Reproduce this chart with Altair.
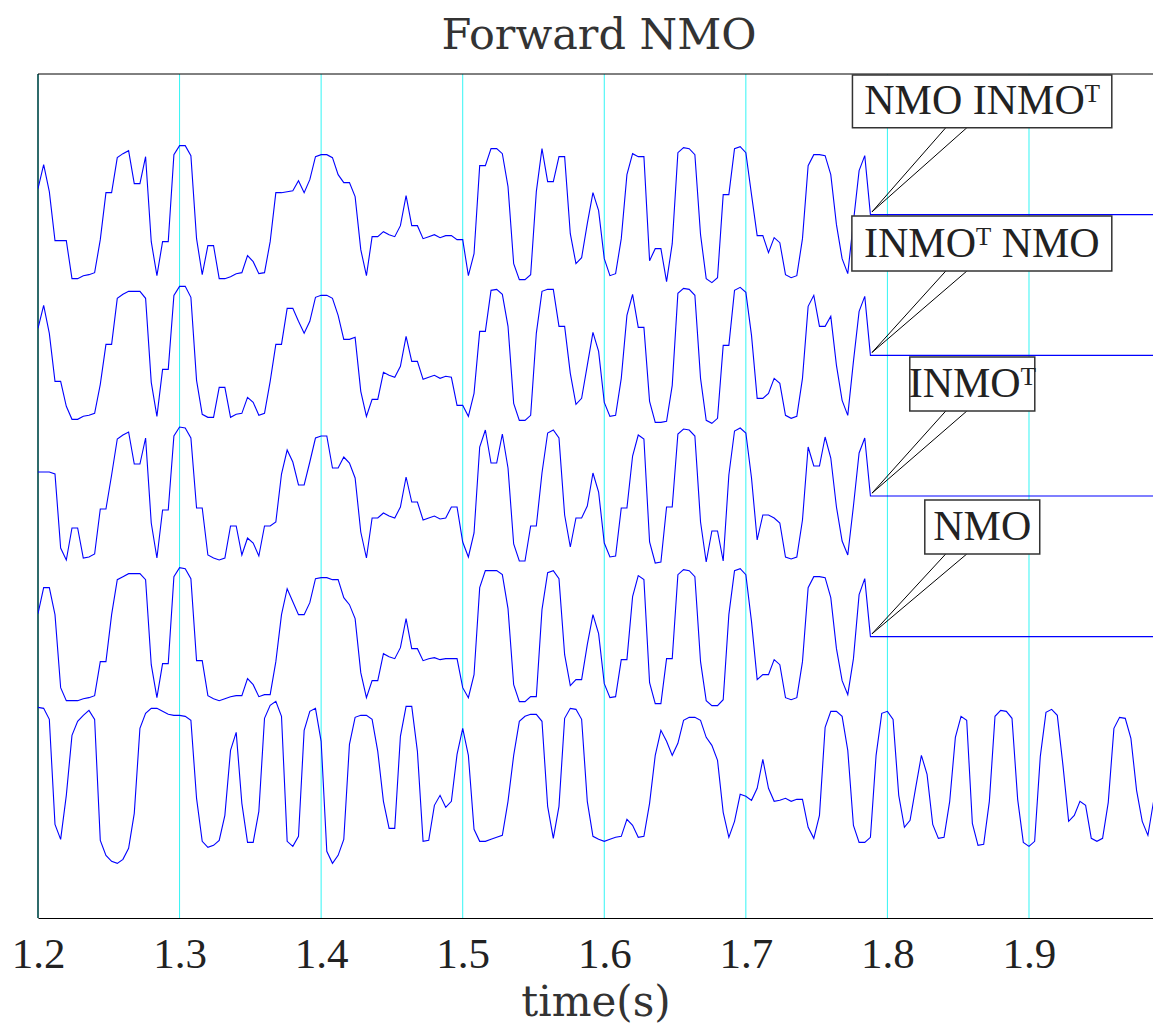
import altair as alt
import pandas as pd

# ---- sampling of the traces ----
T0 = 1.2          # first sample time (s)
DT = 0.004        # sample interval (s)
T_END = 1.9876    # right edge of the time axis
GAIN = 1 / 140.67 # amplitude units -> trace spacing

# ---- trace amplitudes (one value per sample) ----
nmo_inmot = [26, 50, 23, -26, -26, -26, -64, -64, -61, -60,
             -58, -25, 22, 22, 57, 61, 64, 31, 31, 58,
             -27, -61, -27, -27, 60, 69, 69, 59, -24, -60,
             -31, -31, -64, -64, -62, -59, -58, -41, -47, -59,
             -58, -27, 22, 22, 23, 24, 34, 22, 35, 58,
             60, 60, 57, 40, 32, 32, 18, -35, -61, -22,
             -22, -17, -20, -22, -11, 19, -11, -11, -24, -22,
             -20, -23, -21, -21, -25, -25, -61, -39, 49, 49,
             66, 66, 61, 28, -49, -65, -65, -60, 23, 66,
             33, 33, 58, 58, -19, -49, -43, -9, 22, 4,
             -44, -61, -59, -24, 40, 61, 58, 58, -46, -34,
             -34, -67, -29, 62, 67, 66, 60, -20, -64, -68,
             -63, 20, 20, 66, 68, 62, 20, -21, -21, -38,
             -23, -28, -60, -63, -61, -24, 49, 60, 60, 59,
             40, -10, -44, -59, -7, 44, 59, 0]

inmot_nmo = [27, 50, 22, -26, -26, -51, -64, -64, -61, -60,
             -58, -29, 11, 11, 57, 61, 64, 64, 64, 57,
             -27, -61, -14, -14, 60, 69, 69, 58, -25, -59,
             -62, -62, -32, -32, -62, -59, -58, -42, -47, -60,
             -58, -26, 11, 11, 47, 47, 34, 22, 34, 58,
             60, 60, 57, 40, 16, 16, 18, -36, -61, -44,
             -44, -17, -20, -22, -11, 19, -6, -6, -24, -22,
             -20, -23, -21, -22, -50, -50, -61, -38, 24, 24,
             65, 66, 61, 29, -48, -65, -65, -60, 22, 64,
             66, 66, 29, 29, -18, -49, -43, -10, 23, 4,
             -47, -61, -60, -23, 40, 61, 28, 28, -46, -67,
             -67, -66, -30, 62, 67, 66, 60, -23, -65, -68,
             -63, 10, 10, 65, 68, 63, 20, -43, -43, -38,
             -23, -28, -60, -63, -61, -23, 49, 60, 29, 29,
             39, -10, -45, -60, -6, 44, 59, 0]

inmot = [24, 24, 24, 22, -52, -64, -32, -32, -62, -61,
         -58, -13, -13, 21, 57, 61, 64, 32, 32, 58,
         -27, -62, -14, -14, 60, 69, 68, 58, -12, -12,
         -59, -62, -64, -62, -30, -30, -59, -42, -47, -60,
         -30, -30, -26, 22, 46, 34, 11, 11, 34, 58,
         60, 60, 28, 28, 39, 33, 18, -36, -62, -22,
         -22, -17, -20, -22, -11, 19, -6, -6, -24, -22,
         -20, -23, -22, -11, -11, -46, -61, -37, 49, 66,
         33, 33, 62, 28, -48, -65, -65, -30, -30, 23,
         63, 66, 58, -19, -51, -22, -22, -10, 23, 4,
         -47, -61, -60, -12, -12, 40, 61, 57, -46, -67,
         -66, -11, -11, 62, 67, 66, 60, -26, -66, -35,
         -35, -65, 21, 65, 68, 63, 18, -44, -19, -19,
         -22, -27, -61, -63, -61, -24, 49, 30, 30, 59,
         38, -11, -45, -59, -10, 43, 58, 0]

nmo = [23, 49, 49, 22, -51, -64, -64, -64, -62, -61,
       -59, -25, -25, 22, 57, 60, 63, 63, 63, 57,
       -28, -61, -27, -27, 60, 69, 68, 58, -24, -24,
       -59, -62, -64, -62, -60, -59, -59, -42, -48, -60,
       -58, -58, -25, 22, 48, 35, 22, 22, 34, 58,
       59, 59, 57, 57, 39, 32, 18, -36, -61, -44,
       -44, -17, -20, -22, -11, 18, -12, -12, -24, -22,
       -21, -23, -22, -22, -22, -51, -61, -38, 49, 66,
       66, 66, 62, 28, -48, -65, -65, -60, -60, 27,
       64, 66, 58, -18, -49, -43, -43, -8, 22, 3,
       -47, -61, -60, -23, -23, 40, 61, 57, -46, -67,
       -67, -22, -22, 62, 67, 66, 60, -25, -64, -69,
       -69, -63, 22, 66, 68, 62, 15, -43, -38, -38,
       -23, -28, -61, -63, -61, -25, 49, 60, 60, 59,
       39, -12, -44, -58, -22, 42, 58, 0]

input_trace = [70, 69, 58, -47, -62, -18, 42, 56, 62, 67,
               58, -63, -78, -84, -86, -82, -71, -36, 49, 64,
               69, 69, 66, 63, 62, 62, 61, 57, -21, -64,
               -70, -68, -63, -38, 27, 45, -26, -65, -65, -34,
               59, 72, 76, 61, -64, -69, -59, 47, 66, 69,
               36, -74, -86, -78, -62, 33, 60, 62, 62, 58,
               26, -24, -51, -51, 41, 71, 71, 26, -64, -63,
               -28, -18, -30, -24, 23, 49, 22, -52, -64, -64,
               -62, -60, -58, -24, 22, 56, 61, 63, 63, 56,
               -29, -61, -29, 59, 69, 68, 58, -24, -59, -62,
               -64, -62, -60, -59, -42, -48, -60, -59, -26, 22,
               47, 36, 22, 34, 57, 60, 60, 57, 40, 32,
               17, -35, -60, -44, -17, -19, -23, -11, 18, -11,
               -24, -23, -21, -24, -22, -22, -50, -61, -38, 50,
               66, 66, 61, 27, -48, -65, -65, -60, 22, 64,
               66, 58, -18, -50, -43, -10, 22, 3, -47, -61,
               -60, -24, 40, 61, 57, -46, -68, -67, -24, 61,
               67, 66, 59, -22, -65, -69, -64, 21, 65, 68,
               62, 12, -44, -38, -24, -28, -61, -64, -61, -25,
               49, 60, 59, 39, -13, -44, -58, -24, 46]

trace_names = ["NMO INMOᵀ", "INMOᵀ NMO", "INMOᵀ", "NMO", "input"]
trace_offsets = [5, 4, 3, 2, 1]
trace_values = [nmo_inmot, inmot_nmo, inmot, nmo, input_trace]

tick_values = [1.2, 1.3, 1.4, 1.5, 1.6, 1.7, 1.8, 1.9]
grid_times = [1.3, 1.4, 1.5, 1.6, 1.7, 1.8, 1.9]

# ---- callout boxes (time left/right, trace units bottom/top) ----
box_labels = ["NMO INMOᵀ", "INMOᵀ NMO", "INMOᵀ", "NMO"]
box_left = [1.7753, 1.7749, 1.8158, 1.8264]
box_right = [1.9585, 1.9585, 1.9041, 1.9076]
box_bottom = [5.618, 4.599, 3.604, 2.588]
box_top = [5.993, 4.990, 3.988, 2.972]
leader_apex_t = 1.7891
leader_base_t1 = 1.8412
leader_base_t2 = 1.8561

rows = []
for name, off, vals in zip(trace_names, trace_offsets, trace_values):
    for k, a in enumerate(vals):
        rows.append({"trace": name, "t": T0 + DT * k, "y": off + a * GAIN, "k": k})
    if len(vals) < len(input_trace):
        rows.append({"trace": name, "t": T_END + 0.02, "y": off, "k": len(vals)})
df = pd.DataFrame(rows)

boxes = pd.DataFrame({
    "label": box_labels, "x1": box_left, "x2": box_right,
    "y1": box_bottom, "y2": box_top,
})
boxes["xc"] = (boxes["x1"] + boxes["x2"]) / 2
boxes["yt"] = boxes["y1"] + 0.098

lead = []
for off, yb in zip(trace_offsets[:4], box_bottom):
    for tb in (leader_base_t1, leader_base_t2):
        lead.append({"xa": leader_apex_t, "ya": off + 0.02, "xb": tb, "yb": yb})
lead = pd.DataFrame(lead)

grid = pd.DataFrame({"t": grid_times})

W, H = 1115, 844
FONT = "Liberation Serif"
FONT_WIDE = "DejaVu Serif"
xs = alt.Scale(domain=[T0, T_END], nice=False, zero=False)
ys = alt.Scale(domain=[0, 6], nice=False, zero=False)
AX = alt.Axis(
    values=tick_values, format=".1f", grid=False, ticks=False,
    domainColor="black", domainWidth=1,
    labelFont=FONT, labelFontSize=43, labelColor="#222",
    labelPadding=15, labelFlush=False,
    title="time(s)", titleFont=FONT_WIDE, titleFontSize=42,
    titleFontWeight="normal", titleColor="#333", titlePadding=6)

grid_layer = alt.Chart(grid).mark_rule(color="#33f5f5", strokeWidth=1).encode(
    x=alt.X("t:Q", scale=xs, axis=AX),
    y=alt.value(0), y2=alt.value(H),
)

left_edge = alt.Chart(pd.DataFrame({"t": [T0]})).mark_rule(
    color="#2f6b6b", strokeWidth=2).encode(
    x=alt.X("t:Q", scale=xs, axis=AX), y=alt.value(0), y2=alt.value(H))

top_edge = alt.Chart(pd.DataFrame({"t": [T0]})).mark_rule(
    color="black", strokeWidth=1).encode(
    x=alt.value(0), x2=alt.value(W), y=alt.value(0))

lines = alt.Chart(df).mark_line(color="#0000ff", strokeWidth=1.1, clip=True).encode(
    x=alt.X("t:Q", scale=xs, axis=AX),
    y=alt.Y("y:Q", scale=ys, axis=None),
    detail="trace:N",
    order="k:Q",
)

leaders = alt.Chart(lead).mark_rule(color="black", strokeWidth=1).encode(
    x=alt.X("xa:Q", scale=xs, axis=AX), y=alt.Y("ya:Q", scale=ys, axis=None),
    x2="xb:Q", y2="yb:Q")

rects = alt.Chart(boxes).mark_rect(fill="white", stroke="#333", strokeWidth=1.5).encode(
    x=alt.X("x1:Q", scale=xs, axis=AX), x2="x2:Q",
    y=alt.Y("y1:Q", scale=ys, axis=None), y2="y2:Q")

texts = alt.Chart(boxes).mark_text(
    font=FONT, fontSize=42, color="#222", align="center", baseline="alphabetic").encode(
    x=alt.X("xc:Q", scale=xs, axis=AX), y=alt.Y("yt:Q", scale=ys, axis=None),
    text="label:N")

title = alt.Chart(pd.DataFrame({"s": ["Forward NMO"]})).mark_text(
    font=FONT_WIDE, fontSize=43, color="#333", align="center", baseline="alphabetic").encode(
    x=alt.value(561), y=alt.value(-25), text="s:N")

chart = alt.layer(grid_layer, left_edge, top_edge, lines, leaders, rects, texts, title).properties(
    width=W, height=H,
    padding={"left": 30, "top": 66, "right": 0, "bottom": 107},
    autosize="none",
).configure_view(stroke=None)

chart.save("out.html", embed_options={"renderer": "svg", "actions": False})
